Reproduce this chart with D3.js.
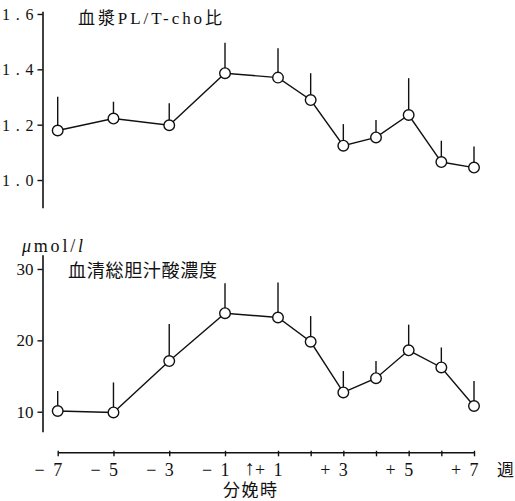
<!DOCTYPE html>
<html><head><meta charset="utf-8">
<script src="https://cdn.jsdelivr.net/npm/d3@7"></script>
<style>
html,body{margin:0;padding:0;background:#fff;}
svg{display:block;}
text{font-family:"Liberation Serif","Noto Sans CJK JP",serif;fill:#111;}
</style></head>
<body>
<script>
// ---- data ----
const weeks = [-7, -5, -3, -1, 1, 2, 3, 4, 5, 6, 7];
const weekLabels = [
  {w:-7, sign:"−", num:"7"}, {w:-5, sign:"−", num:"5"}, {w:-3, sign:"−", num:"3"},
  {w:-1, sign:"−", num:"1"}, {w:1, sign:"+", num:"1"}, {w:3, sign:"+", num:"3"},
  {w:5, sign:"+", num:"5"}, {w:7, sign:"+", num:"7"}
];
const plRatio     = [1.179, 1.222, 1.198, 1.386, 1.370, 1.289, 1.124, 1.154, 1.235, 1.065, 1.045];
const plRatioSD   = [0.122, 0.061, 0.079, 0.110, 0.106, 0.097, 0.078, 0.063, 0.133, 0.077, 0.076];
const bileAcid    = [10.1, 9.9, 17.1, 23.8, 23.2, 19.8, 12.7, 14.7, 18.6, 16.2, 10.8];
const bileAcidSD  = [2.8, 4.2, 5.2, 4.2, 4.9, 3.6, 3.0, 2.4, 3.6, 2.8, 3.5];
const topTicks = [1.0, 1.2, 1.4, 1.6];
const topTickLabels = ["1.0", "1.2", "1.4", "1.6"];
const botTicks = [10, 20, 30];
const botTickLabels = ["10", "20", "30"];
const topTitle = "血漿PL/T-cho比";
const botTitle = "血清総胆汁酸濃度";
const unitLabel = ["μ", "mol/", "l"];
const deliveryLabel = "分娩時";
const weekUnit = "週";

// ---- drawing ----
const W = 515, H = 501;
const svg = d3.select("body").append("svg").attr("width", W).attr("height", H);

const x = d3.scaleLinear().domain([-7, -1, 1, 7]).range([57.7, 225, 278, 474]);
const yTop = d3.scaleLinear().domain([0.9, 1.61]).range([207.7, 11.2]);
const yBot = d3.scaleLinear().domain([7.2, 32]).range([431.7, 254.7]);

const axisX = 42.5;

function drawPanel(yScale, ticks, tickLabels, means, sds, labelSize, labelLen) {
  const ax = svg.append("g").attr("transform", `translate(${axisX},0)`)
    .call(d3.axisLeft(yScale).tickValues(ticks).tickSize(5).tickSizeOuter(0).tickFormat(""));
  ax.select(".domain").attr("stroke", "#111").attr("stroke-width", 1.6);
  ax.selectAll(".tick line").attr("stroke", "#111").attr("stroke-width", 1.4);
  const lbl = svg.append("g");
  ticks.forEach((t, i) => {
    const tx = lbl.append("text")
      .attr("x", 33.5).attr("y", yScale(t) + 6)
      .attr("text-anchor", "end")
      .style("font-size", labelSize + "px")
      .text(tickLabels[i]);
    if (labelLen) tx.attr("textLength", labelLen).attr("lengthAdjust", "spacing");
  });
  const pts = weeks.map((w, i) => ({w, m: means[i], s: sds[i]}));
  // error bars (upper only)
  svg.append("g").selectAll("line").data(pts).join("line")
    .attr("x1", d => x(d.w)).attr("x2", d => x(d.w))
    .attr("y1", d => yScale(d.m)).attr("y2", d => yScale(d.m + d.s))
    .attr("stroke", "#111").attr("stroke-width", 1.4);
  // connecting line
  svg.append("path").datum(pts)
    .attr("d", d3.line().x(d => x(d.w)).y(d => yScale(d.m)))
    .attr("fill", "none").attr("stroke", "#111").attr("stroke-width", 1.4);
  // markers
  svg.append("g").selectAll("circle").data(pts).join("circle")
    .attr("cx", d => x(d.w)).attr("cy", d => yScale(d.m)).attr("r", 5.3)
    .attr("fill", "#fff").attr("stroke", "#111").attr("stroke-width", 1.4);
}

drawPanel(yTop, topTicks, topTickLabels, plRatio, plRatioSD, 16, 31.5);
drawPanel(yBot, botTicks, botTickLabels, bileAcid, bileAcidSD, 17, null);

// titles
svg.append("text").attr("x", 78).attr("y", 24).style("font-size", "17px")
  .attr("textLength", 144).attr("lengthAdjust", "spacing").text(topTitle);
svg.append("text").attr("x", 68).attr("y", 277).style("font-size", "18px")
  .attr("textLength", 149).attr("lengthAdjust", "spacing").text(botTitle);
const unit = svg.append("text").attr("x", 22).attr("y", 251.5).style("font-size", "18px")
  .attr("textLength", 61).attr("lengthAdjust", "spacing");
unit.append("tspan").style("font-style", "italic").text(unitLabel[0]);
unit.append("tspan").text(unitLabel[1]);
unit.append("tspan").style("font-style", "italic").text(unitLabel[2]);

// x axis
const xAxisY = 452.3;
const xa = svg.append("g").attr("transform", `translate(0,${xAxisY})`)
  .call(d3.axisBottom(x).tickValues(weeks).tickSize(4).tickSizeOuter(0).tickFormat(""));
xa.select(".domain").attr("stroke", "#111").attr("stroke-width", 1.6);
xa.selectAll(".tick line").attr("stroke", "#111").attr("stroke-width", 1.4).attr("y1", -1.5);

const xl = svg.append("g").style("font-size", "18px");
weekLabels.forEach(d => {
  xl.append("text").attr("x", x(d.w) - 18).attr("y", 475.5).attr("text-anchor", "middle").text(d.sign);
  xl.append("text").attr("x", x(d.w)).attr("y", 475.5).attr("text-anchor", "middle").text(d.num);
});
// delivery arrow at week 0
xl.append("text").attr("x", x(0) - 2).attr("y", 475).attr("text-anchor", "middle")
  .style("font-size", "21px").text("↑");
svg.append("text").attr("x", 223).attr("y", 495.5).style("font-size", "17px")
  .attr("textLength", 54).attr("lengthAdjust", "spacing").text(deliveryLabel);
svg.append("text").attr("x", 497).attr("y", 476).style("font-size", "17px").text(weekUnit);
</script>
</body></html>
